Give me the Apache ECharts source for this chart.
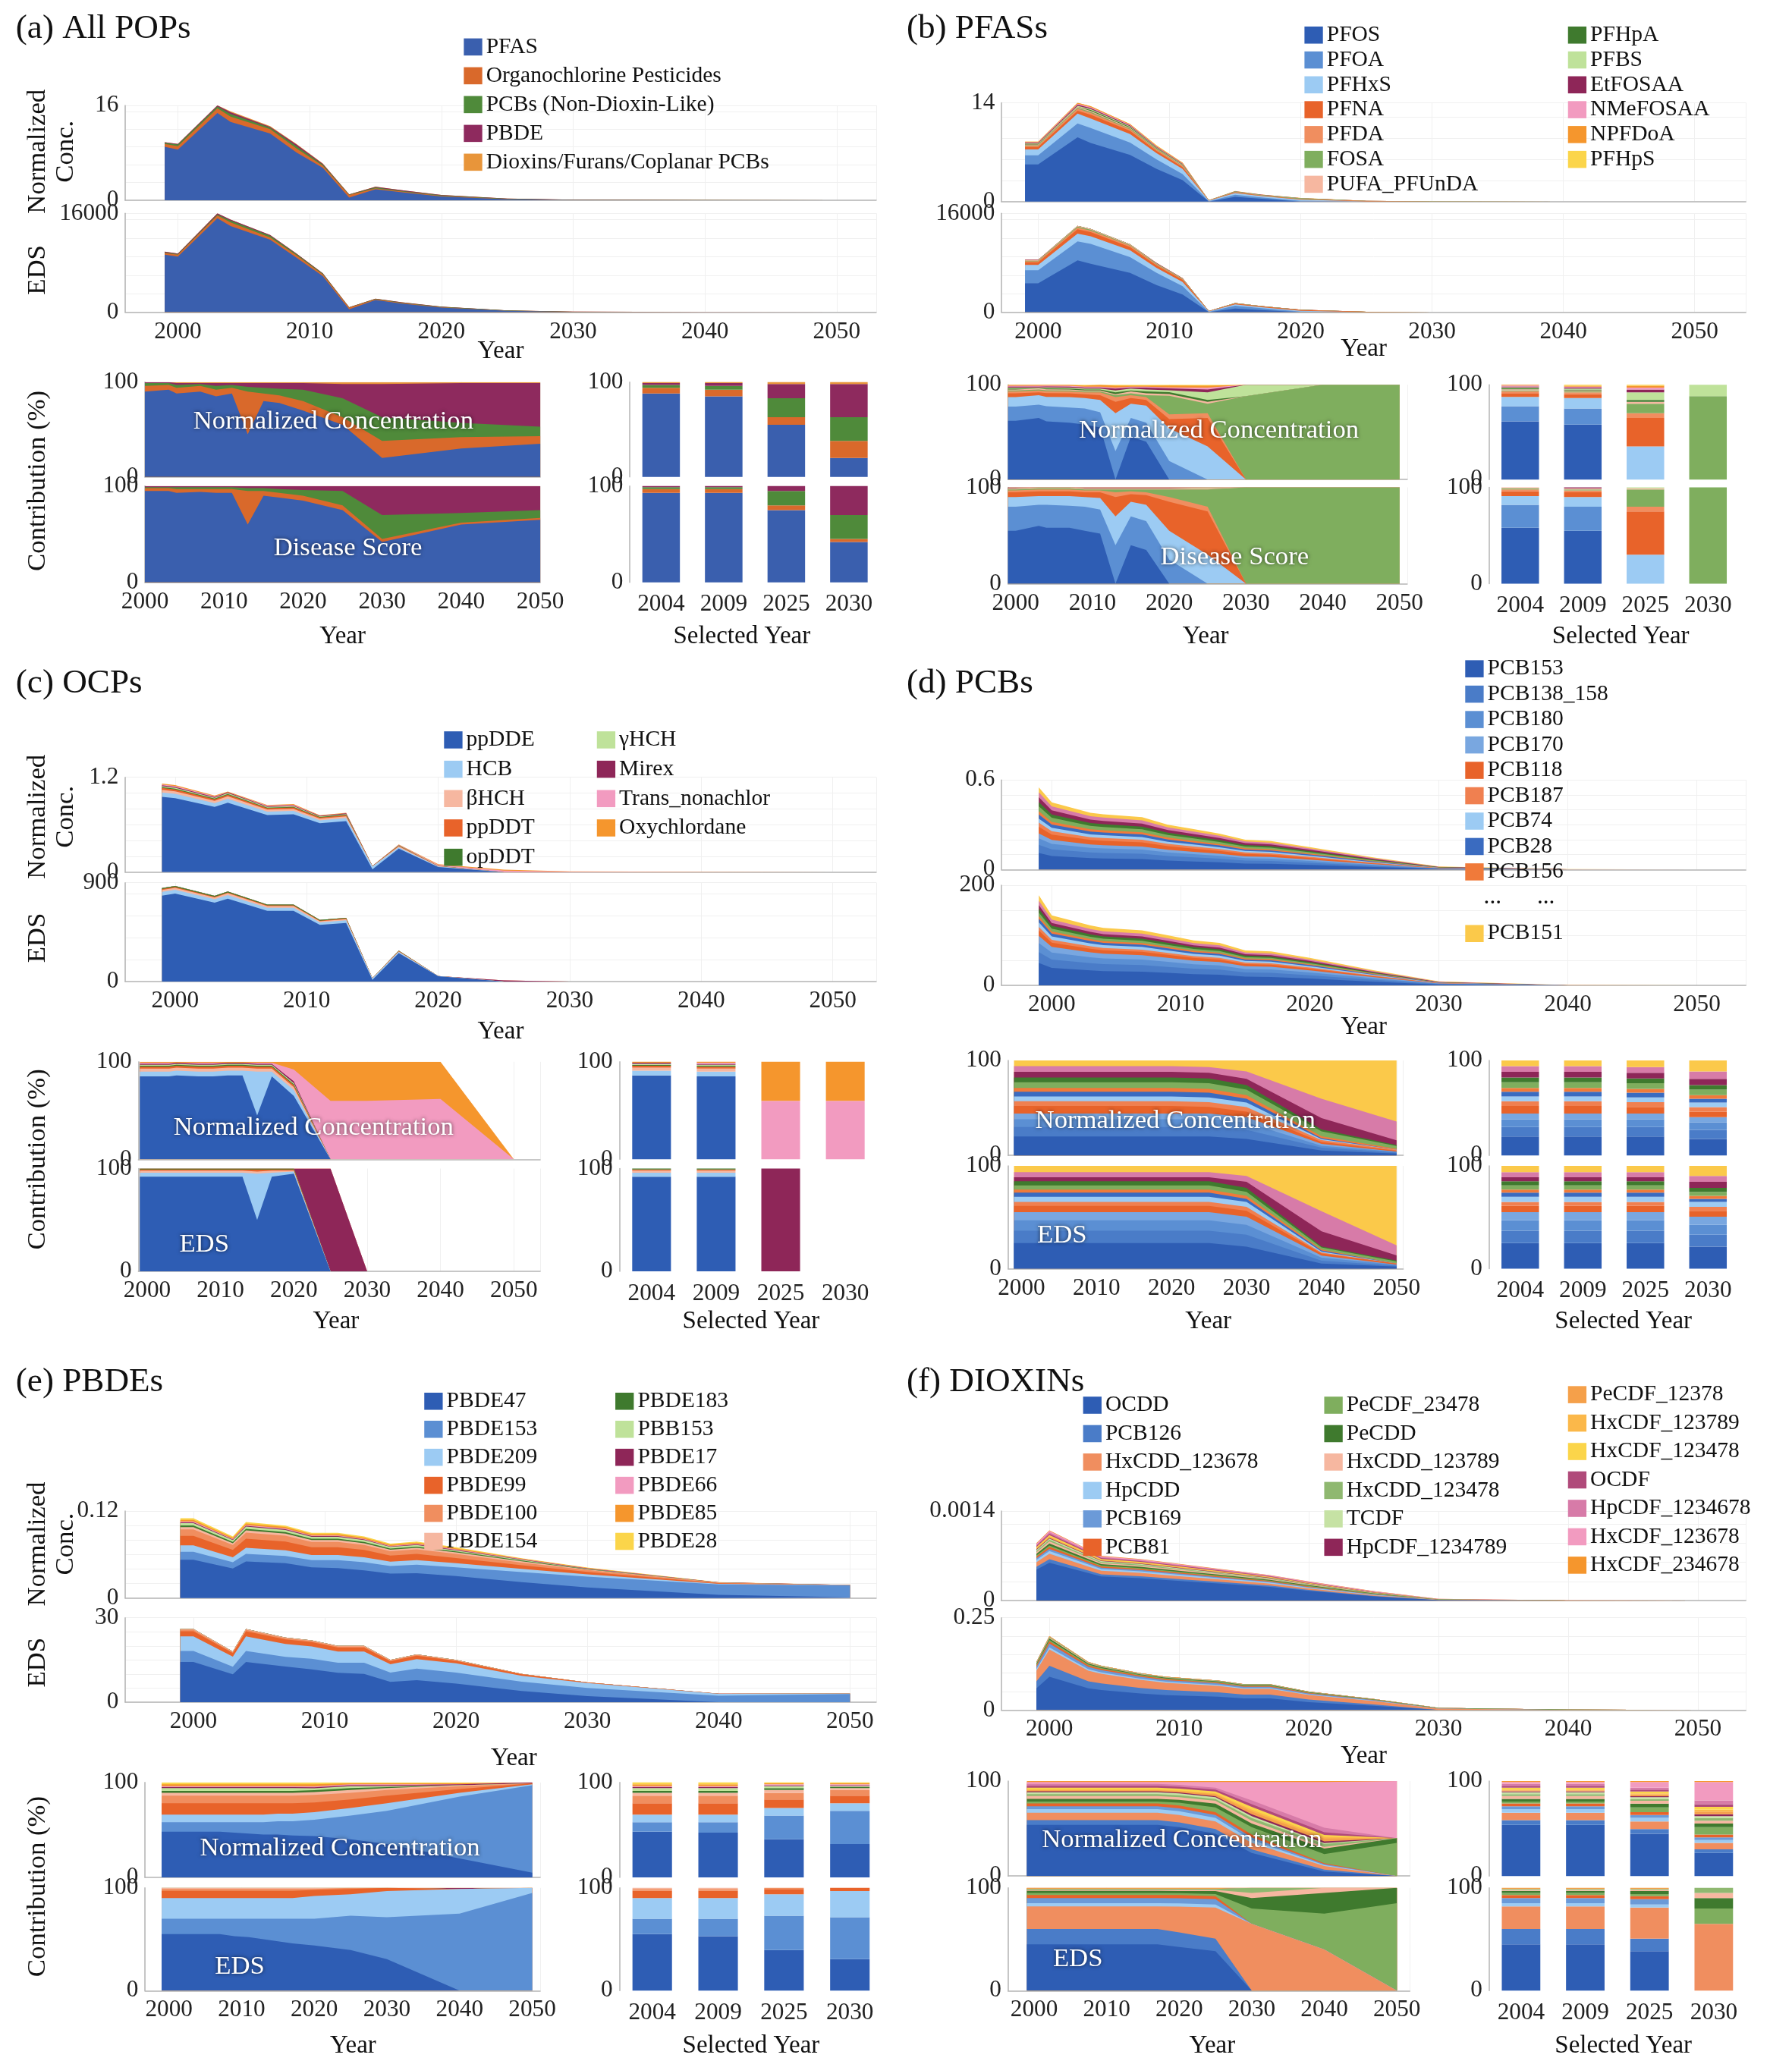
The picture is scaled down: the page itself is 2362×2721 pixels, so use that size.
<!DOCTYPE html>
<html>
<head>
<meta charset="utf-8">
<script src="https://cdn.jsdelivr.net/npm/echarts@6/dist/echarts.min.js"></script>
<style>html,body{margin:0;padding:0;background:#fff}#chart{width:2362px;height:2721px}</style>
</head>
<body>
<div id="chart"></div>
<script>
// layout is written in units of a 1360 px wide sketch, then scaled up
const S = 2362 / 1360;
const px = v => v * S;
const FONT = "'Liberation Serif', 'DejaVu Serif', serif";

const YEARS = [1999, 2000, 2003, 2004, 2007, 2009, 2011, 2013, 2015, 2017, 2020, 2025, 2030, 2040, 2050];
const BAR_YEARS = ['2004', '2009', '2025', '2030'];
const YEAR_TICKS = [2000, 2010, 2020, 2030, 2040, 2050];

// (a) All POPs
const A_NAMES = ['PFAS', 'Organochlorine Pesticides', 'PCBs (Non-Dioxin-Like)', 'PBDE', 'Dioxins/Furans/Coplanar PCBs'];
const A_COLORS = ['#3a5fae', '#d9692b', '#4f8a3a', '#8e2a5e', '#e8953a'];
const A_NC_TOTAL = [9.8, 9.5, 16, 15, 12.5, 9.5, 6.2, 1.0, 2.3, 1.7, 0.9, 0.3, 0.1, 0.03, 0.01];
const A_EDS_TOTAL = [9800, 9500, 16000, 15000, 12500, 9500, 6300, 800, 2200, 1600, 900, 300, 100, 30, 10];
const A_NC_SHARE = [
  [92, 90, 92, 88, 90, 85, 88, 45, 80, 78, 70, 55, 20, 30, 35],
  [5, 6, 5, 6, 6, 7, 6, 45, 8, 8, 10, 8, 18, 12, 8],
  [2, 3, 2, 3, 2, 4, 3, 5, 6, 7, 12, 20, 25, 15, 10],
  [1, 1, 1, 2, 1, 3, 2, 4, 5, 6, 7, 15, 35, 42, 46],
  [0, 0, 0, 1, 1, 1, 1, 1, 1, 1, 1, 2, 2, 1, 1]
];
const A_EDS_SHARE = [
  [95, 95, 95, 93, 94, 93, 93, 60, 90, 88, 85, 75, 42, 60, 65],
  [3, 3, 3, 4, 3, 4, 4, 35, 5, 5, 5, 5, 3, 2, 2],
  [1, 1, 1, 2, 2, 2, 2, 3, 3, 4, 6, 15, 25, 10, 8],
  [1, 1, 1, 1, 1, 1, 1, 2, 2, 3, 4, 5, 30, 28, 25],
  [0, 0, 0, 0, 0, 0, 0, 0, 0, 0, 0, 0, 0, 0, 0]
];

// (b) PFASs
const B_NAMES = ['PFOS', 'PFOA', 'PFHxS', 'PFNA', 'PFDA', 'FOSA', 'PUFA_PFUnDA', 'PFHpA', 'PFBS', 'EtFOSAA', 'NMeFOSAA', 'NPFDoA', 'PFHpS'];
const B_COLORS = ['#2e5db4', '#5b8fd3', '#9ccbf3', '#e8632a', '#f08e5f', '#7fae5e', '#f6b7a0', '#3f7a2e', '#bfe29a', '#8e2658', '#f29bc0', '#f5962d', '#fbd54a'];
const B_NC_TOTAL = [8.5, 8.5, 14, 13.5, 11, 8, 5.5, 0.2, 1.5, 1.0, 0.5, 0.1, 0.02, 0.005, 0.002];
const B_EDS_TOTAL = [8500, 8500, 14000, 13500, 11000, 8000, 5500, 200, 1500, 1000, 400, 80, 20, 5, 2];
const B_NC_SHARE = [
  [62, 62, 65, 62, 60, 58, 55, 0, 45, 40, 0, 0, 0, 0, 0],
  [15, 15, 14, 16, 16, 17, 16, 30, 20, 20, 20, 0, 0, 0, 0],
  [10, 10, 10, 10, 11, 11, 13, 40, 15, 18, 35, 35, 0, 0, 0],
  [4, 4, 3, 4, 4, 4, 5, 12, 6, 6, 10, 30, 0, 0, 0],
  [2, 2, 2, 2, 2, 2, 3, 5, 3, 3, 5, 5, 0, 0, 0],
  [1, 1, 1, 1, 1, 1, 1, 2, 2, 2, 20, 10, 88, 100, 100],
  [1, 1, 1, 1, 1, 1, 1, 1, 2, 2, 2, 2, 0, 0, 0],
  [1, 1, 0, 1, 1, 1, 1, 2, 1, 2, 2, 2, 0, 0, 0],
  [1, 1, 1, 1, 1, 1, 1, 2, 2, 2, 2, 8, 12, 0, 0],
  [1, 1, 1, 1, 1, 1, 1, 2, 1, 2, 2, 3, 0, 0, 0],
  [1, 1, 1, 1, 1, 1, 1, 1, 1, 1, 1, 2, 0, 0, 0],
  [1, 1, 1, 1, 1, 1, 2, 2, 1, 1, 2, 2, 0, 0, 0],
  [0, 0, 0, 0, 0, 1, 0, 1, 1, 1, 1, 1, 0, 0, 0]
];
const B_EDS_SHARE = [
  [55, 55, 60, 58, 58, 55, 52, 0, 40, 35, 0, 0, 0, 0, 0],
  [25, 25, 22, 24, 23, 25, 25, 40, 30, 30, 25, 0, 0, 0, 0],
  [10, 10, 9, 9, 10, 10, 12, 30, 15, 17, 30, 30, 0, 0, 0],
  [5, 5, 5, 5, 5, 5, 6, 20, 8, 10, 30, 45, 0, 0, 0],
  [2, 2, 2, 2, 2, 2, 2, 5, 3, 3, 5, 5, 0, 0, 0],
  [1, 1, 1, 1, 1, 1, 1, 3, 2, 3, 8, 18, 100, 100, 100],
  [1, 1, 1, 1, 1, 1, 1, 1, 1, 1, 1, 1, 0, 0, 0],
  [0, 0, 0, 0, 0, 0, 0, 0, 0, 0, 0, 0, 0, 0, 0],
  [0, 0, 0, 0, 0, 0, 0, 0, 0, 0, 0, 1, 0, 0, 0],
  [1, 1, 0, 0, 0, 1, 1, 1, 1, 1, 1, 0, 0, 0, 0],
  [0, 0, 0, 0, 0, 0, 0, 0, 0, 0, 0, 0, 0, 0, 0],
  [0, 0, 0, 0, 0, 0, 0, 0, 0, 0, 0, 0, 0, 0, 0],
  [0, 0, 0, 0, 0, 0, 0, 0, 0, 0, 0, 0, 0, 0, 0]
];

// (c) OCPs
const C_NAMES = ['ppDDE', 'HCB', 'βHCH', 'ppDDT', 'opDDT', 'γHCH', 'Mirex', 'Trans_nonachlor', 'Oxychlordane'];
const C_COLORS = ['#2e5db4', '#9ccbf3', '#f6b7a0', '#e8632a', '#3f7a2e', '#bfe29a', '#8e2658', '#f29bc0', '#f5962d'];
const C_NC_TOTAL = [1.12, 1.1, 0.97, 1.02, 0.85, 0.86, 0.72, 0.75, 0.08, 0.35, 0.1, 0.03, 0.01, 0.005, 0.002];
const C_EDS_TOTAL = [850, 870, 780, 820, 700, 700, 560, 580, 30, 280, 50, 10, 3, 1, 0];
const C_NC_SHARE = [
  [85, 85, 85, 86, 85, 85, 86, 86, 45, 85, 65, 0, 0, 0, 0],
  [5, 5, 5, 5, 5, 5, 5, 5, 45, 5, 6, 0, 0, 0, 0],
  [3, 3, 3, 3, 3, 3, 3, 3, 3, 3, 3, 0, 0, 0, 0],
  [2, 2, 2, 2, 2, 2, 2, 2, 2, 2, 2, 0, 0, 0, 0],
  [1, 1, 1, 1, 1, 1, 1, 1, 1, 1, 1, 0, 0, 0, 0],
  [1, 1, 1, 1, 1, 1, 1, 1, 1, 1, 1, 0, 0, 0, 0],
  [1, 1, 1, 1, 1, 1, 1, 1, 1, 1, 2, 0, 0, 0, 0],
  [1, 1, 1, 0, 1, 1, 0, 0, 1, 1, 12, 60, 60, 62, 0],
  [1, 1, 1, 1, 1, 1, 1, 1, 1, 1, 8, 40, 40, 38, 0]
];
const C_EDS_SHARE = [
  [92, 92, 92, 92, 92, 92, 92, 92, 50, 92, 95, 0, 0, 0, 0],
  [4, 4, 4, 4, 4, 4, 4, 4, 45, 4, 2, 0, 0, 0, 0],
  [2, 2, 2, 2, 2, 2, 2, 2, 2, 2, 1, 0, 0, 0, 0],
  [1, 1, 1, 1, 1, 1, 1, 1, 2, 1, 1, 0, 0, 0, 0],
  [1, 1, 1, 1, 1, 1, 1, 1, 1, 1, 1, 0, 0, 0, 0],
  [0, 0, 0, 0, 0, 0, 0, 0, 0, 0, 0, 0, 0, 0, 0],
  [0, 0, 0, 0, 0, 0, 0, 0, 0, 0, 0, 100, 0, 0, 0],
  [0, 0, 0, 0, 0, 0, 0, 0, 0, 0, 0, 0, 0, 0, 0],
  [0, 0, 0, 0, 0, 0, 0, 0, 0, 0, 0, 0, 0, 0, 0]
];

// (d) PCBs
const D_NAMES = ['PCB153', 'PCB138_158', 'PCB180', 'PCB170', 'PCB118', 'PCB187', 'PCB74', 'PCB28', 'PCB156', 'PCB99', 'PCB105', 'PCB183', 'PCB177', 'PCB151'];
const D_LEGEND = ['PCB153', 'PCB138_158', 'PCB180', 'PCB170', 'PCB118', 'PCB187', 'PCB74', 'PCB28', 'PCB156'];
const D_COLORS = ['#2e5db4', '#4a7cc8', '#5b8fd3', '#79a7e0', '#e8632a', '#f08050', '#9ccbf3', '#3a6bc0', '#f07a3a', '#7fae5e', '#3f7a2e', '#8e2658', '#d77ba8', '#fbc94a'];
const D_NC_TOTAL = [0.55, 0.45, 0.38, 0.37, 0.35, 0.3, 0.27, 0.24, 0.2, 0.19, 0.15, 0.08, 0.02, 0.002, 0.0005];
const D_EDS_TOTAL = [180, 140, 120, 115, 110, 100, 90, 85, 70, 68, 55, 30, 8, 0.8, 0.2];
const D_NC_SHARE = [
  [20, 20, 20, 20, 20, 20, 20, 20, 20, 20, 20, 20, 18, 5, 2],
  [10, 10, 10, 10, 10, 10, 10, 10, 10, 10, 10, 10, 10, 3, 1],
  [8, 8, 8, 8, 8, 8, 8, 8, 8, 8, 8, 8, 8, 2, 1],
  [6, 6, 6, 6, 6, 6, 6, 6, 6, 6, 6, 6, 6, 2, 0],
  [8, 8, 8, 8, 8, 8, 8, 8, 8, 8, 8, 7, 6, 2, 1],
  [5, 5, 5, 5, 5, 5, 5, 5, 5, 5, 5, 5, 5, 2, 1],
  [5, 5, 5, 5, 5, 5, 5, 5, 5, 5, 5, 5, 5, 1, 0],
  [5, 5, 5, 5, 5, 5, 5, 5, 5, 5, 5, 5, 4, 1, 0],
  [4, 4, 4, 4, 4, 4, 4, 4, 4, 4, 4, 4, 4, 2, 1],
  [6, 6, 6, 6, 6, 6, 6, 6, 6, 6, 6, 6, 6, 5, 3],
  [5, 5, 5, 5, 5, 5, 5, 5, 5, 5, 5, 5, 5, 2, 1],
  [6, 6, 6, 6, 6, 6, 6, 6, 6, 6, 6, 6, 7, 12, 5],
  [6, 6, 6, 6, 6, 6, 6, 6, 6, 6, 6, 6, 8, 20, 20],
  [6, 6, 6, 6, 6, 6, 6, 6, 6, 6, 6, 7, 12, 40, 65]
];
const D_EDS_SHARE = [
  [25, 25, 25, 25, 25, 25, 25, 25, 25, 25, 25, 25, 22, 5, 2],
  [12, 12, 12, 12, 12, 12, 12, 12, 12, 12, 12, 12, 12, 3, 1],
  [10, 10, 10, 10, 10, 10, 10, 10, 10, 10, 10, 10, 10, 3, 1],
  [8, 8, 8, 8, 8, 8, 8, 8, 8, 8, 8, 8, 8, 2, 0],
  [6, 6, 6, 6, 6, 6, 6, 6, 6, 6, 6, 6, 6, 2, 1],
  [4, 4, 4, 4, 4, 4, 4, 4, 4, 4, 4, 4, 4, 1, 0],
  [5, 5, 5, 5, 5, 5, 5, 5, 5, 5, 5, 5, 5, 1, 0],
  [4, 4, 4, 4, 4, 4, 4, 4, 4, 4, 4, 4, 3, 1, 0],
  [3, 3, 3, 3, 3, 3, 3, 3, 3, 3, 3, 3, 3, 1, 0],
  [4, 4, 4, 4, 4, 4, 4, 4, 4, 4, 4, 4, 4, 2, 2],
  [4, 4, 4, 4, 4, 4, 4, 4, 4, 4, 4, 4, 4, 1, 1],
  [4, 4, 4, 4, 4, 4, 4, 4, 4, 4, 4, 4, 6, 15, 5],
  [5, 5, 5, 5, 5, 5, 5, 5, 5, 5, 5, 5, 6, 20, 10],
  [6, 6, 6, 6, 6, 6, 6, 6, 6, 6, 6, 6, 10, 45, 78]
];

// (e) PBDEs
const E_NAMES = ['PBDE47', 'PBDE153', 'PBDE209', 'PBDE99', 'PBDE100', 'PBDE154', 'PBDE183', 'PBB153', 'PBDE17', 'PBDE66', 'PBDE85', 'PBDE28'];
const E_COLORS = ['#2e5db4', '#5b8fd3', '#9ccbf3', '#e8632a', '#f08e5f', '#f6b7a0', '#3f7a2e', '#bfe29a', '#8e2658', '#f29bc0', '#f5962d', '#fbd54a'];
const E_NC_TOTAL = [0.11, 0.11, 0.085, 0.105, 0.10, 0.09, 0.09, 0.085, 0.075, 0.078, 0.07, 0.055, 0.042, 0.022, 0.018];
const E_EDS_TOTAL = [26, 26, 18, 26, 23, 22, 20, 20, 15, 17, 15, 10, 7, 3, 3];
const E_NC_SHARE = [
  [48, 48, 48, 48, 48, 47, 46, 45, 45, 44, 43, 40, 35, 20, 5],
  [10, 10, 10, 10, 10, 11, 12, 13, 14, 15, 17, 25, 35, 65, 92],
  [8, 8, 8, 8, 8, 8, 8, 8, 8, 8, 8, 8, 8, 4, 1],
  [12, 12, 12, 12, 12, 12, 12, 12, 11, 11, 10, 9, 8, 4, 1],
  [8, 8, 8, 8, 8, 8, 8, 8, 8, 8, 8, 7, 6, 3, 0],
  [3, 3, 3, 3, 3, 3, 3, 3, 3, 3, 3, 3, 2, 1, 0],
  [2, 2, 2, 2, 2, 2, 2, 2, 2, 2, 2, 2, 1, 0, 0],
  [3, 3, 3, 3, 3, 3, 3, 3, 3, 3, 2, 2, 1, 0, 0],
  [1, 1, 1, 1, 1, 1, 1, 1, 1, 1, 1, 1, 1, 1, 1],
  [1, 1, 1, 1, 1, 1, 1, 1, 1, 1, 1, 1, 1, 0, 0],
  [2, 2, 2, 2, 2, 2, 2, 2, 2, 2, 2, 1, 1, 1, 0],
  [2, 2, 2, 2, 2, 2, 2, 2, 2, 2, 2, 1, 1, 1, 0]
];
const E_EDS_SHARE = [
  [55, 55, 55, 55, 55, 53, 52, 50, 48, 46, 44, 38, 30, 0, 0],
  [15, 15, 15, 15, 15, 17, 18, 20, 22, 24, 26, 32, 40, 75, 95],
  [20, 20, 20, 20, 20, 20, 20, 20, 20, 20, 22, 20, 25, 24, 5],
  [7, 7, 7, 7, 7, 7, 7, 7, 7, 7, 6, 5, 3, 0, 0],
  [2, 2, 2, 2, 2, 2, 2, 2, 2, 2, 1, 1, 0, 0, 0],
  [1, 1, 1, 1, 1, 1, 1, 1, 1, 1, 1, 0, 0, 0, 0],
  [0, 0, 0, 0, 0, 0, 0, 0, 0, 0, 0, 0, 0, 0, 0],
  [0, 0, 0, 0, 0, 0, 0, 0, 0, 0, 0, 0, 0, 0, 0],
  [0, 0, 0, 0, 0, 0, 0, 0, 0, 0, 0, 0, 0, 1, 0],
  [0, 0, 0, 0, 0, 0, 0, 0, 0, 0, 0, 0, 0, 0, 0],
  [0, 0, 0, 0, 0, 0, 0, 0, 0, 0, 0, 0, 0, 0, 0],
  [0, 0, 0, 0, 0, 0, 0, 0, 0, 0, 0, 0, 0, 0, 0]
];

// (f) DIOXINs
const F_NAMES = ['OCDD', 'PCB126', 'HxCDD_123678', 'HpCDD', 'PCB169', 'PCB81', 'PeCDF_23478', 'PeCDD', 'HxCDD_123789', 'HxCDD_123478', 'TCDF', 'HpCDF_1234789', 'PeCDF_12378', 'HxCDF_123789', 'HxCDF_123478', 'OCDF', 'HpCDF_1234678', 'HxCDF_123678', 'HxCDF_234678'];
const F_COLORS = ['#2e5db4', '#4a7cc8', '#f08e5f', '#9ccbf3', '#6b9ad8', '#e8632a', '#7fae5e', '#3f7a2e', '#f6b7a0', '#8fb870', '#c6e2a4', '#8e2658', '#f5a04a', '#fbb84a', '#fbd54a', '#b04a7a', '#d77ba8', '#f29bc0', '#f5962d'];
const F_NC_TOTAL = [0.0009, 0.0011, 0.0008, 0.0007, 0.00065, 0.0006, 0.00055, 0.0005, 0.00045, 0.0004, 0.0003, 0.00015, 0.00003, 0.000005, 0.000002];
const F_EDS_TOTAL = [0.13, 0.2, 0.13, 0.12, 0.1, 0.09, 0.085, 0.08, 0.07, 0.07, 0.05, 0.03, 0.006, 0.001, 0.0004];
const F_NC_SHARE = [
  [55, 55, 55, 55, 55, 55, 55, 55, 55, 55, 52, 45, 25, 5, 0],
  [5, 5, 5, 5, 5, 5, 5, 5, 5, 5, 5, 5, 4, 2, 0],
  [8, 8, 8, 8, 8, 8, 8, 8, 8, 8, 8, 8, 7, 4, 0],
  [4, 4, 4, 4, 4, 4, 4, 4, 4, 4, 4, 4, 3, 1, 0],
  [3, 3, 3, 3, 3, 3, 3, 3, 3, 3, 3, 3, 3, 1, 0],
  [3, 3, 3, 3, 3, 3, 3, 3, 3, 3, 3, 3, 3, 1, 0],
  [2, 2, 2, 2, 2, 2, 2, 2, 2, 2, 3, 5, 8, 10, 35],
  [3, 3, 3, 3, 3, 3, 3, 3, 3, 3, 3, 4, 4, 6, 5],
  [3, 3, 3, 3, 3, 3, 3, 3, 3, 3, 3, 3, 3, 2, 0],
  [2, 2, 2, 2, 2, 2, 2, 2, 2, 2, 2, 2, 3, 3, 0],
  [2, 2, 2, 2, 2, 2, 2, 2, 2, 2, 2, 2, 2, 1, 0],
  [1, 1, 1, 1, 1, 1, 1, 1, 1, 1, 1, 1, 2, 2, 0],
  [1, 1, 1, 1, 1, 1, 1, 1, 1, 1, 1, 2, 3, 3, 0],
  [1, 1, 1, 1, 1, 1, 1, 1, 1, 1, 1, 1, 2, 2, 0],
  [2, 2, 2, 2, 2, 2, 2, 2, 2, 2, 2, 2, 3, 2, 0],
  [2, 2, 2, 2, 2, 2, 2, 2, 2, 2, 2, 2, 3, 3, 0],
  [2, 2, 2, 2, 2, 2, 2, 2, 2, 2, 2, 2, 4, 5, 0],
  [2, 2, 2, 2, 2, 2, 2, 2, 2, 2, 3, 6, 20, 50, 60],
  [1, 1, 1, 1, 1, 1, 1, 1, 1, 1, 1, 1, 1, 1, 0]
];
const F_EDS_SHARE = [
  [45, 45, 45, 45, 45, 45, 45, 45, 45, 45, 42, 38, 0, 0, 0],
  [15, 15, 15, 15, 15, 15, 15, 15, 15, 15, 14, 12, 0, 0, 0],
  [22, 22, 22, 22, 22, 22, 22, 22, 22, 22, 25, 30, 65, 40, 0],
  [3, 3, 3, 3, 3, 3, 3, 3, 3, 3, 3, 3, 0, 0, 0],
  [5, 5, 5, 5, 5, 5, 5, 5, 5, 5, 5, 5, 0, 0, 0],
  [3, 3, 3, 3, 3, 3, 3, 3, 3, 3, 3, 3, 0, 0, 0],
  [2, 2, 2, 2, 2, 2, 2, 2, 2, 2, 2, 2, 15, 35, 85],
  [2, 2, 2, 2, 2, 2, 2, 2, 2, 2, 2, 3, 10, 20, 15],
  [1, 1, 1, 1, 1, 1, 1, 1, 1, 1, 1, 1, 5, 5, 0],
  [1, 1, 1, 1, 1, 1, 1, 1, 1, 1, 1, 1, 5, 0, 0],
  [0, 0, 0, 0, 0, 0, 0, 0, 0, 0, 0, 0, 0, 0, 0],
  [0, 0, 0, 0, 0, 0, 0, 0, 0, 0, 0, 0, 0, 0, 0],
  [1, 1, 1, 1, 1, 1, 1, 1, 1, 1, 1, 1, 0, 0, 0],
  [0, 0, 0, 0, 0, 0, 0, 0, 0, 0, 0, 0, 0, 0, 0],
  [0, 0, 0, 0, 0, 0, 0, 0, 0, 0, 0, 0, 0, 0, 0],
  [0, 0, 0, 0, 0, 0, 0, 0, 0, 0, 0, 0, 0, 0, 0],
  [0, 0, 0, 0, 0, 0, 0, 0, 0, 0, 0, 0, 0, 0, 0],
  [0, 0, 0, 0, 0, 0, 0, 0, 0, 0, 0, 0, 0, 0, 0],
  [0, 0, 0, 0, 0, 0, 0, 0, 0, 0, 0, 0, 0, 0, 0]
];

const panels = [
  { title: '(a) All POPs', t: [12, 6], names: A_NAMES, colors: A_COLORS, ncTot: A_NC_TOTAL, edsTot: A_EDS_TOTAL, ncSh: A_NC_SHARE, edsSh: A_EDS_SHARE,
    nc: [95, 80, 570, 72], eds: [95, 162, 570, 75], xr: [1996, 2053], ncMax: 16, edsMax: 16000, year: [380, 267],
    cnc: [110, 290, 300, 72], ceds: [110, 369, 300, 73], cr: [2000, 2050], bar: [478, 190], cyear: [260, 483], sel: [563, 483],
    legends: [{ x: 352, y: 27, gap: 21.6, names: A_NAMES }], ncText: [253, 320], edsText: 'Disease Score', edsPos: [264, 416] },
  { title: '(b) PFASs', t: [688, 6], names: B_NAMES, colors: B_COLORS, ncTot: B_NC_TOTAL, edsTot: B_EDS_TOTAL, ncSh: B_NC_SHARE, edsSh: B_EDS_SHARE,
    nc: [760, 78, 565, 75], eds: [760, 162, 565, 75], xr: [1997.2, 2053.9], ncMax: 14, edsMax: 16000, year: [1035, 265],
    cnc: [765, 292, 303, 72], ceds: [765, 370, 303, 73], cr: [1999, 2051], bar: [1130, 190], cyear: [915, 483], sel: [1230, 483],
    legends: [{ x: 990, y: 18, gap: 18.6, names: B_NAMES.slice(0, 7) }, { x: 1190, y: 18, gap: 18.6, names: B_NAMES.slice(7) }],
    ncText: [925, 327], edsText: 'Disease Score', edsPos: [937, 423] },
  { title: '(c) OCPs', t: [12, 503], names: C_NAMES, colors: C_COLORS, ncTot: C_NC_TOTAL, edsTot: C_EDS_TOTAL, ncSh: C_NC_SHARE, edsSh: C_EDS_SHARE,
    nc: [95, 590, 570, 72], eds: [95, 670, 570, 75], xr: [1996.2, 2053.3], ncMax: 1.2, edsMax: 900, year: [380, 783],
    cnc: [105, 806, 305, 74], ceds: [105, 887, 305, 78], cr: [1998.8, 2053.6], bar: [470, 196], cyear: [255, 1003], sel: [570, 1003],
    legends: [{ x: 337, y: 553, gap: 22, names: C_NAMES.slice(0, 5) }, { x: 453, y: 553, gap: 22, names: C_NAMES.slice(5) }],
    ncText: [238, 856], edsText: 'EDS', edsPos: [155, 945] },
  { title: '(d) PCBs', t: [688, 503], names: D_NAMES, colors: D_COLORS, ncTot: D_NC_TOTAL, edsTot: D_EDS_TOTAL, ncSh: D_NC_SHARE, edsSh: D_EDS_SHARE,
    nc: [760, 592, 565, 68], eds: [760, 672, 565, 76], xr: [1996.1, 2053.8], ncMax: 0.6, edsMax: 200, year: [1035, 780],
    cnc: [765, 805, 300, 72], ceds: [765, 885, 300, 78], cr: [1998.2, 2050.9], bar: [1130, 190], cyear: [917, 1003], sel: [1232, 1003],
    legends: [{ x: 1112, y: 499, gap: 19, names: D_LEGEND }, { x: 1112, y: 700, gap: 19, names: ['PCB151'] }],
    ncText: [892, 851], edsText: 'EDS', edsPos: [806, 938], dots: [1153, 681] },
  { title: '(e) PBDEs', t: [12, 1033], names: E_NAMES, colors: E_COLORS, ncTot: E_NC_TOTAL, edsTot: E_EDS_TOTAL, ncSh: E_NC_SHARE, edsSh: E_EDS_SHARE,
    nc: [95, 1147, 570, 66], eds: [95, 1228, 570, 64], xr: [1994.8, 2052], ncMax: 0.12, edsMax: 30, year: [390, 1335],
    cnc: [110, 1353, 300, 72], ceds: [110, 1433, 300, 78], cr: [1996.7, 2051.1], bar: [470, 200], cyear: [268, 1553], sel: [570, 1553],
    legends: [{ x: 322, y: 1055, gap: 21, names: E_NAMES.slice(0, 6) }, { x: 467, y: 1055, gap: 21, names: E_NAMES.slice(6) }],
    ncText: [258, 1403], edsText: 'EDS', edsPos: [182, 1493] },
  { title: '(f) DIOXINs', t: [688, 1033], names: F_NAMES, colors: F_COLORS, ncTot: F_NC_TOTAL, edsTot: F_EDS_TOTAL, ncSh: F_NC_SHARE, edsSh: F_EDS_SHARE,
    nc: [760, 1147, 565, 68], eds: [760, 1228, 565, 70], xr: [1996.3, 2053.7], ncMax: 0.0014, edsMax: 0.25, year: [1035, 1333],
    cnc: [765, 1352, 305, 72], ceds: [765, 1433, 305, 78], cr: [1996.4, 2051.8], bar: [1130, 195], cyear: [920, 1553], sel: [1232, 1553],
    legends: [{ x: 822, y: 1058, gap: 21.3, names: F_NAMES.slice(0, 6) }, { x: 1005, y: 1058, gap: 21.3, names: F_NAMES.slice(6, 12) },
              { x: 1190, y: 1050, gap: 21.3, names: F_NAMES.slice(12) }],
    ncText: [897, 1397], edsText: 'EDS', edsPos: [818, 1487] }
];

const grids = [], xAxes = [], yAxes = [], series = [], legends = [], graphics = [];
const labelStyle = { fontFamily: FONT, fontSize: px(18), color: '#222', formatter: v => String(v) };
const thinLine = { show: true, lineStyle: { color: '#b5b5b5', width: 1.5 } };

function addGrid(r) {
  grids.push({ left: px(r[0]), top: px(r[1]), width: px(r[2]), height: px(r[3]) });
  return grids.length - 1;
}
function valueX(gi, range, labels) {
  xAxes.push({ gridIndex: gi, type: 'value', min: range[0], max: range[1], axisLine: thinLine,
    axisTick: { show: false }, splitLine: { show: true, lineStyle: { color: '#f0f0f0' } },
    axisLabel: Object.assign({ show: labels, customValues: YEAR_TICKS, margin: px(6) }, labelStyle) });
  return xAxes.length - 1;
}
function valueY(gi, max, grid) {
  yAxes.push({ gridIndex: gi, type: 'value', min: 0, max: max, axisLine: thinLine, axisTick: { show: false },
    splitLine: { show: grid, lineStyle: { color: '#f0f0f0' } },
    axisLabel: Object.assign({ customValues: [0, max], margin: px(5) }, labelStyle) });
  return yAxes.length - 1;
}
function catX(gi, labels) {
  xAxes.push({ gridIndex: gi, type: 'category', data: BAR_YEARS, axisLine: { show: false }, axisTick: { show: false },
    axisLabel: Object.assign({ show: labels, margin: px(8) }, labelStyle) });
  return xAxes.length - 1;
}
function text(x, y, s, opt) {
  graphics.push({ type: 'text', x: px(x), y: px(y), rotation: (opt && opt.rot) || 0, z: 100,
    style: Object.assign({ text: s, fontFamily: FONT, fontSize: px((opt && opt.size) || 18), fill: '#111',
      textAlign: 'center', textVerticalAlign: 'middle' }, (opt && opt.style) || {}) });
}

// normalised shares (%) per year, 0 where a year has no share
function shares(sh) {
  return YEARS.map((_, j) => {
    const sum = sh.reduce((a, s) => a + s[j], 0);
    return sh.map(s => (sum > 0 ? (s[j] / sum) * 100 : 0));
  });
}

// stacked areas: cumulative tops drawn from top series down so lower bands overlay
function areas(P, xi, yi, valuesPerYear) {
  const n = P.names.length;
  for (let k = n - 1; k >= 0; k--) {
    const data = YEARS.map((yr, j) => {
      let c = 0;
      for (let m = 0; m <= k; m++) c += valuesPerYear[j][m];
      return [yr, c];
    });
    series.push({ type: 'line', name: P.names[k], xAxisIndex: xi, yAxisIndex: yi, data, symbol: 'none',
      lineStyle: { width: 0 }, itemStyle: { color: P.colors[k] }, areaStyle: { color: P.colors[k], opacity: 1 },
      silent: true, animation: false });
  }
}
function bars(P, xi, yi, pct, key) {
  P.names.forEach((nm, k) => {
    series.push({ type: 'bar', name: nm, xAxisIndex: xi, yAxisIndex: yi, stack: key, barWidth: '60%',
      itemStyle: { color: P.colors[k] }, silent: true, animation: false,
      data: BAR_YEARS.map(b => pct[YEARS.indexOf(+b)][k]) });
  });
}

panels.forEach((P, pi) => {
  const ncPct = shares(P.ncSh), edsPct = shares(P.edsSh);
  const ncVals = ncPct.map((row, j) => row.map(v => (v / 100) * P.ncTot[j]));
  const edsVals = edsPct.map((row, j) => row.map(v => (v / 100) * P.edsTot[j]));

  let g = addGrid(P.nc);
  areas(P, valueX(g, P.xr, false), valueY(g, P.ncMax, true), ncVals);
  g = addGrid(P.eds);
  areas(P, valueX(g, P.xr, true), valueY(g, P.edsMax, true), edsVals);
  g = addGrid(P.cnc);
  areas(P, valueX(g, P.cr, false), valueY(g, 100, false), ncPct);
  g = addGrid(P.ceds);
  areas(P, valueX(g, P.cr, true), valueY(g, 100, false), edsPct);
  g = addGrid([P.bar[0], P.cnc[1], P.bar[1], P.cnc[3]]);
  bars(P, catX(g, false), valueY(g, 100, false), ncPct, 'bn' + pi);
  g = addGrid([P.bar[0], P.ceds[1], P.bar[1], P.ceds[3]]);
  bars(P, catX(g, true), valueY(g, 100, false), edsPct, 'be' + pi);

  P.legends.forEach(L => {
    legends.push({ data: L.names, orient: 'vertical', left: px(L.x), top: px(L.y), itemGap: px(L.gap - 17),
      itemWidth: px(14), itemHeight: px(13), icon: 'rect', selectedMode: false, padding: 0,
      textStyle: { fontFamily: FONT, fontSize: px(17), color: '#111', lineHeight: px(17) } });
  });

  text(P.t[0], P.t[1] + 16, P.title, { size: 26, style: { textAlign: 'left' } });
  text(P.year[0], P.year[1], 'Year', { size: 19 });
  text(P.cyear[0], P.cyear[1], 'Year', { size: 19 });
  text(P.sel[0], P.sel[1], 'Selected Year', { size: 19 });
  const white = { fill: '#fff', textShadowColor: 'rgba(0,0,0,0.7)', textShadowBlur: px(3) };
  text(P.ncText[0], P.ncText[1], 'Normalized Concentration', { size: 20, style: white });
  text(P.edsPos[0], P.edsPos[1], P.edsText, { size: 20, style: white });
  if (P.dots) text(P.dots[0], P.dots[1], '...      ...', { size: 18 });
});

// y axis titles for each row (left column only)
const rot = Math.PI / 2;
[[115, 205, 365], [620, 712, 880], [1172, 1262, 1432]].forEach(r => {
  text(29, r[0], 'Normalized', { rot, size: 20 });
  text(50, r[0], 'Conc.', { rot, size: 20 });
  text(29, r[1], 'EDS', { rot, size: 20 });
  text(29, r[2], 'Contribution (%)', { rot, size: 20 });
});

const chart = echarts.init(document.getElementById('chart'));
chart.setOption({
  backgroundColor: '#fff',
  animation: false,
  grid: grids, xAxis: xAxes, yAxis: yAxes, series, legend: legends, graphic: graphics
});
</script>
</body>
</html>
